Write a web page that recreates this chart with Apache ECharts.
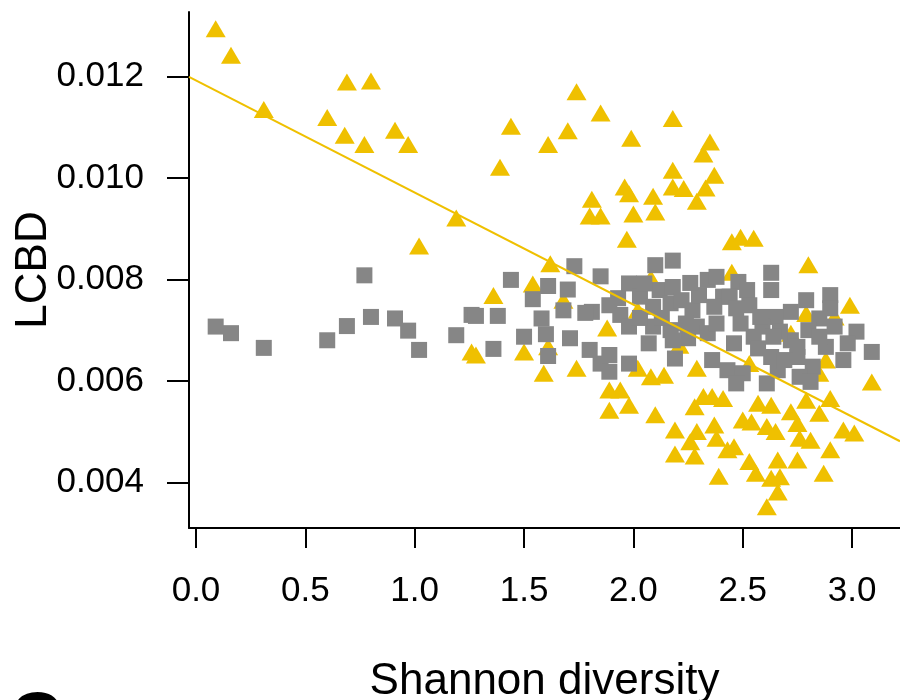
<!DOCTYPE html>
<html>
<head>
<meta charset="utf-8">
<title>LCBD vs Shannon diversity</title>
<script src="https://cdn.jsdelivr.net/npm/echarts@6.0.0/dist/echarts.min.js"></script>
<style>
  html, body { margin: 0; padding: 0; background: #fff; }
  #chart { width: 900px; height: 700px; }
</style>
</head>
<body>
<div id="chart"></div>
<script>
var xTicks = [0, 0.5, 1, 1.5, 2, 2.5, 3];
var yTicks = [0.004, 0.006, 0.008, 0.010, 0.012];

// yellow triangles: [Shannon diversity, LCBD]
var triangles = [
  [0.09,0.01294],[0.16,0.01242],[0.31,0.01135],[0.69,0.01189],[0.80,0.01191],[0.60,0.01119],
  [0.68,0.01084],[0.77,0.01066],[0.91,0.01094],[0.97,0.01066],[1.02,0.00866],[1.19,0.00921],
  [1.74,0.01170],[1.85,0.01128],[1.44,0.01102],[1.70,0.01093],[1.61,0.01066],[2.18,0.01117],
  [1.99,0.01078],[2.35,0.01071],[2.32,0.01047],[1.39,0.01021],[2.18,0.01015],[2.37,0.01005],
  [2.18,0.00982],[2.23,0.00979],[2.33,0.00980],[1.96,0.00982],[1.98,0.00969],[2.09,0.00964],
  [1.81,0.00958],[2.29,0.00954],[1.80,0.00925],[1.85,0.00925],[2.00,0.00929],[2.10,0.00933],
  [1.97,0.00879],[2.45,0.00874],[2.49,0.00883],[2.55,0.00881],[2.80,0.00829],[1.62,0.00831],
  [1.54,0.00791],[1.36,0.00768],[2.99,0.00749],[2.08,0.00802],[2.45,0.00814],[1.68,0.00759],
  [1.88,0.00704],[2.79,0.00733],[2.92,0.00726],[2.72,0.00694],[1.26,0.00657],[1.28,0.00651],
  [1.50,0.00657],[1.61,0.00667],[1.59,0.00615],[2.02,0.00739],[2.21,0.00670],
  [1.74,0.00625],[2.02,0.00625],[2.08,0.00608],[2.14,0.00611],[2.29,0.00625],[1.89,0.00582],
  [1.94,0.00582],[1.89,0.00542],[1.98,0.00552],[2.10,0.00533],[2.19,0.00503],
  [2.28,0.00549],[2.32,0.00569],[2.36,0.00569],[2.41,0.00565],[2.29,0.00500],[2.37,0.00513],
  [2.38,0.00487],[2.26,0.00480],[2.19,0.00456],[2.28,0.00452],[2.39,0.00412],[2.43,0.00464],
  [3.09,0.00598],[2.57,0.00556],[2.63,0.00552],[2.72,0.00539],[2.79,0.00562],[2.90,0.00565],
  [2.85,0.00536],[2.50,0.00523],[2.54,0.00519],[2.61,0.00510],[2.65,0.00500],[2.75,0.00516],
  [2.76,0.00487],[2.81,0.00483],[2.96,0.00503],[3.01,0.00497],[2.46,0.00470],[2.90,0.00464],
  [2.53,0.00441],[2.66,0.00444],[2.75,0.00444],[2.56,0.00418],[2.63,0.00408],[2.67,0.00411],
  [2.66,0.00381],[2.61,0.00352],[2.87,0.00418],[2.88,0.00641],[2.53,0.00634],[2.85,0.00615],
  [2.74,0.00651]
];

// grey squares
var squares = [
  [0.09,0.00707],[0.16,0.00694],[0.31,0.00665],[0.60,0.00680],[0.69,0.00708],[0.77,0.00808],
  [0.80,0.00726],[0.91,0.00723],[0.97,0.00699],[1.02,0.00661],[1.19,0.00690],
  [1.44,0.00799],[1.61,0.00787],[1.54,0.00761],[1.70,0.00780],[1.68,0.00739],[1.26,0.00730],
  [1.28,0.00728],[1.38,0.00728],[1.58,0.00723],[1.60,0.00692],[1.50,0.00687],[1.36,0.00663],
  [1.61,0.00649],[1.71,0.00684],
  [1.73,0.00826],[1.85,0.00806],[2.10,0.00828],[2.18,0.00837],[1.98,0.00792],[1.81,0.00736],
  [1.89,0.00749],[1.94,0.00730],[1.98,0.00707],[2.03,0.00766],[2.09,0.00746],[2.12,0.00779],
  [2.18,0.00785],[2.17,0.00753],[2.09,0.00707],[2.17,0.00700],[2.07,0.00674],[2.18,0.00680],
  [2.27,0.00739],[2.34,0.00799],[2.38,0.00805],[2.41,0.00766],[2.37,0.00746],[2.29,0.00707],
  [2.34,0.00694],[2.38,0.00713],
  [1.80,0.00661],[1.89,0.00651],[1.85,0.00634],[1.89,0.00618],[1.98,0.00634],[2.19,0.00644],
  [2.36,0.00641],[2.43,0.00621],[2.24,0.00713],[2.22,0.00759],
  [2.63,0.00813],[2.63,0.00779],[2.48,0.00795],[2.52,0.00779],[2.44,0.00766],[2.53,0.00749],
  [2.79,0.00759],[2.90,0.00769],[2.90,0.00743],[2.72,0.00736],[2.65,0.00726],[2.85,0.00723],
  [3.02,0.00697],[3.09,0.00657],[2.98,0.00674],[2.80,0.00700],[2.96,0.00641],[2.75,0.00647],
  [2.82,0.00628],[2.63,0.00647],[2.55,0.00687],[2.49,0.00713],[2.46,0.00674],[2.50,0.00615],
  [2.61,0.00595],[2.66,0.00621],[2.76,0.00608],[2.72,0.00680],[2.67,0.00697],[2.59,0.00707],
  [2.57,0.00664],[2.88,0.00667],[2.92,0.00707],[2.47,0.00595],[2.81,0.00598],
  [2.05,0.00792],[2.30,0.00769],[2.26,0.00793],[2.13,0.00724],[2.25,0.00684],[1.78,0.00734],
  [2.58,0.00726],[2.64,0.00687],[2.75,0.00667],[2.85,0.00687],[2.03,0.00724],[1.93,0.00763],
  [2.47,0.00743],[2.69,0.00641]
];

// fitted line, ends at the plot edges
var fitLine = [[-0.032, 0.01199], [3.219, 0.00481]];

var yellow = '#EFC000';
var grey = '#868686';
var font = '"Liberation Sans", Arial, sans-serif';

var chart = echarts.init(document.getElementById('chart'));
var option = {
  animation: false,
  backgroundColor: '#fff',
  grid: { left: 189, right: 0, top: 12, bottom: 172, outerBoundsMode: 'none' },
  xAxis: {
    type: 'value',
    min: -0.032,
    max: 3.219,
    name: 'Shannon diversity',
    nameLocation: 'middle',
    nameGap: 132,
    nameMoveOverlap: false,
    nameTextStyle: { fontFamily: font, fontSize: 44, color: '#000' },
    axisLine: { show: true, onZero: false, lineStyle: { color: '#000', width: 2 } },
    axisTick: { show: true, customValues: xTicks, length: 20, lineStyle: { color: '#000', width: 2 } },
    axisLabel: {
      customValues: xTicks, margin: 46, fontFamily: font, fontSize: 35, color: '#000',
      formatter: function (v) { return v.toFixed(1); }
    },
    splitLine: { show: false }
  },
  yAxis: {
    type: 'value',
    min: 0.0031,
    max: 0.01327,
    name: 'LCBD',
    nameLocation: 'middle',
    nameRotate: 90,
    nameGap: 133,
    nameMoveOverlap: false,
    nameTextStyle: { fontFamily: font, fontSize: 44, color: '#000' },
    axisLine: { show: true, onZero: false, lineStyle: { color: '#000', width: 2 } },
    axisTick: { show: true, customValues: yTicks, length: 22, lineStyle: { color: '#000', width: 2 } },
    axisLabel: {
      customValues: yTicks, margin: 45, fontFamily: font, fontSize: 35, color: '#000',
      formatter: function (v) { return v.toFixed(3); }
    },
    splitLine: { show: false }
  },
  graphic: [{
    type: 'text',
    left: 10,
    top: 687,
    style: { text: 'C', font: 'bold 72px "Liberation Sans", Arial, sans-serif', fill: '#000' }
  }],
  series: [
    {
      type: 'scatter',
      data: triangles,
      symbol: 'triangle',
      symbolSize: [20, 17],
      itemStyle: { color: yellow, opacity: 1 },
      emphasis: { disabled: true }
    },
    {
      type: 'scatter',
      data: squares,
      symbol: 'rect',
      symbolSize: 16,
      itemStyle: { color: grey, opacity: 1 },
      emphasis: { disabled: true }
    },
    {
      type: 'line',
      data: fitLine,
      symbol: 'none',
      lineStyle: { color: yellow, width: 2 },
      emphasis: { disabled: true }
    }
  ]
};
chart.setOption(option);
</script>
</body>
</html>
